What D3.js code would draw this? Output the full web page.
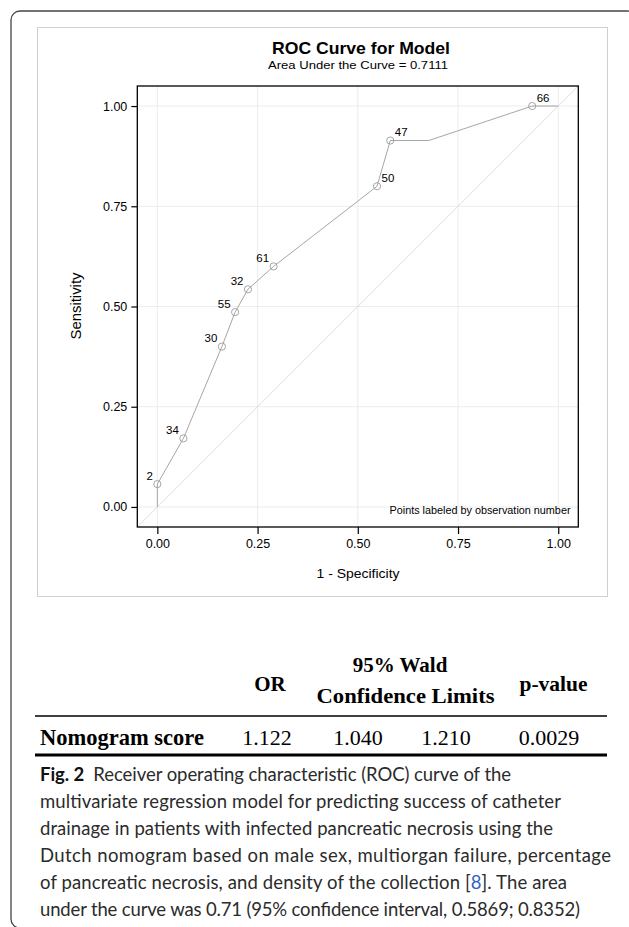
<!DOCTYPE html>
<html>
<head>
<meta charset="utf-8">
<script src="https://cdn.jsdelivr.net/npm/d3@7"></script>
<style>
  body { margin: 0; background: #fff; }
  svg { display: block; }
</style>
</head>
<body>
<svg id="fig" width="629" height="927"></svg>
<script>
// ROC points (1 - specificity, sensitivity) and the observation labels
const fpr = [0, 0, 0.065, 0.161, 0.194, 0.226, 0.290, 0.548, 0.581, 0.677, 0.935, 1.0];
const tpr = [0, 0.057, 0.171, 0.400, 0.486, 0.543, 0.600, 0.800, 0.914, 0.914, 1.0, 1.0];
const obsLabels = ["", "2", "34", "30", "55", "32", "61", "50", "47", "", "66", ""];
const labelRight = ["50", "47", "66"];

const tickValues = [0, 0.25, 0.5, 0.75, 1];

// table under the chart
const tableHeaders = ["OR", "95% Wald", "Confidence Limits", "p-value"];
const rowLabel = "Nomogram score";
const rowValues = ["1.122", "1.040", "1.210", "0.0029"];

const captionLines = [
    "Receiver operating characteristic (ROC) curve of the",
    "multivariate regression model for predicting success of catheter",
    "drainage in patients with infected pancreatic necrosis using the",
    "Dutch nomogram based on male sex, multiorgan failure, percentage",
    "of pancreatic necrosis, and density of the collection [8]. The area",
    "under the curve was 0.71 (95% confidence interval, 0.5869; 0.8352)"
];

const svg = d3.select("#fig");
const chartFont = "'Liberation Sans', Arial, sans-serif";

// outer rounded frame (runs off the right edge)
svg.append("rect")
    .attr("x", 11).attr("y", 11)
    .attr("width", 625).attr("height", 917)
    .attr("rx", 9)
    .attr("fill", "none")
    .attr("stroke", "#444")
    .attr("stroke-width", 1.3);

// light frame of the chart image
svg.append("rect")
    .attr("x", 37.5).attr("y", 27.5)
    .attr("width", 570).attr("height", 569)
    .attr("fill", "#fff")
    .attr("stroke", "#cfcfcf");

const plot = { left: 137.3, right: 578.3, top: 86, bottom: 527 };

const x = d3.scaleLinear().domain([-0.05, 1.05]).range([plot.left, plot.right]);
const y = d3.scaleLinear().domain([-0.05, 1.05]).range([plot.bottom, plot.top]);

const g = svg.append("g");

g.append("clipPath").attr("id", "plotclip")
    .append("rect")
    .attr("x", plot.left).attr("y", plot.top)
    .attr("width", plot.right - plot.left).attr("height", plot.bottom - plot.top);

// grid lines
g.selectAll(".vgrid")
    .data(tickValues)
    .enter()
    .append("line")
    .attr("x1", d => x(d)).attr("x2", d => x(d))
    .attr("y1", plot.top).attr("y2", plot.bottom)
    .attr("stroke", "#ececec");

g.selectAll(".hgrid")
    .data(tickValues)
    .enter()
    .append("line")
    .attr("y1", d => y(d)).attr("y2", d => y(d))
    .attr("x1", plot.left).attr("x2", plot.right)
    .attr("stroke", "#ececec");

// chance diagonal
g.append("line")
    .attr("clip-path", "url(#plotclip)")
    .attr("x1", x(-0.05)).attr("y1", y(-0.05))
    .attr("x2", x(1.05)).attr("y2", y(1.05))
    .attr("stroke", "#d4d4d4")
    .attr("stroke-width", 0.8);

// ROC curve
const pts = fpr.map((f, i) => ({ fx: f, ty: tpr[i], label: obsLabels[i] }));

const line = d3.line()
    .x(d => x(d.fx))
    .y(d => y(d.ty));

g.append("path")
    .datum(pts)
    .attr("d", line)
    .attr("fill", "none")
    .attr("stroke", "#a6a6a6")
    .attr("stroke-width", 1);

const labelled = pts.filter(d => d.label !== "");

g.selectAll(".pt")
    .data(labelled)
    .enter()
    .append("circle")
    .attr("cx", d => x(d.fx))
    .attr("cy", d => y(d.ty))
    .attr("r", 3.6)
    .attr("fill", "none")
    .attr("stroke", "#9c9c9c")
    .attr("stroke-width", 0.9);

g.selectAll(".ptlabel")
    .data(labelled)
    .enter()
    .append("text")
    .attr("x", d => labelRight.includes(d.label) ? x(d.fx) + 4.5 : x(d.fx) - 4.5)
    .attr("y", d => y(d.ty) - 4.5)
    .attr("text-anchor", d => labelRight.includes(d.label) ? "start" : "end")
    .attr("font-family", chartFont)
    .attr("font-size", 11.5)
    .attr("fill", "#000")
    .text(d => d.label);

// plot border
g.append("rect")
    .attr("x", plot.left).attr("y", plot.top)
    .attr("width", plot.right - plot.left).attr("height", plot.bottom - plot.top)
    .attr("fill", "none")
    .attr("stroke", "#000")
    .attr("stroke-width", 1.3);

// axes
const xAxis = d3.axisBottom(x)
    .tickValues(tickValues)
    .tickFormat(d3.format(".2f"))
    .tickSize(7)
    .tickPadding(5);

const xg = g.append("g")
    .attr("transform", `translate(0,${plot.bottom})`)
    .call(xAxis);

const yAxis = d3.axisLeft(y)
    .tickValues(tickValues)
    .tickFormat(d3.format(".2f"))
    .tickSize(6)
    .tickPadding(4);

const yg = g.append("g")
    .attr("transform", `translate(${plot.left},0)`)
    .call(yAxis);

[xg, yg].forEach(a => {
    a.select(".domain").remove();
    a.selectAll("line").attr("stroke", "#000").attr("stroke-width", 1.2);
    a.selectAll("text")
        .attr("font-family", chartFont)
        .attr("font-size", 12.5)
        .attr("fill", "#000");
});

// titles
g.append("text")
    .attr("x", 361).attr("y", 54)
    .attr("text-anchor", "middle")
    .attr("font-family", chartFont)
    .attr("font-size", 17)
    .attr("font-weight", "bold")
    .attr("textLength", 178)
    .attr("lengthAdjust", "spacingAndGlyphs")
    .text("ROC Curve for Model");

g.append("text")
    .attr("x", 358).attr("y", 68.5)
    .attr("text-anchor", "middle")
    .attr("font-family", chartFont)
    .attr("font-size", 11.5)
    .attr("textLength", 180)
    .attr("lengthAdjust", "spacingAndGlyphs")
    .text("Area Under the Curve = 0.7111");

g.append("text")
    .attr("x", 358).attr("y", 578)
    .attr("text-anchor", "middle")
    .attr("font-family", chartFont)
    .attr("font-size", 13.5)
    .attr("textLength", 83)
    .attr("lengthAdjust", "spacingAndGlyphs")
    .text("1 - Specificity");

g.append("text")
    .attr("transform", "translate(81,306) rotate(-90)")
    .attr("text-anchor", "middle")
    .attr("font-family", chartFont)
    .attr("font-size", 14)
    .attr("textLength", 67)
    .attr("lengthAdjust", "spacingAndGlyphs")
    .text("Sensitivity");

g.append("text")
    .attr("x", 570.5).attr("y", 514)
    .attr("text-anchor", "end")
    .attr("font-family", chartFont)
    .attr("font-size", 10)
    .attr("textLength", 181)
    .attr("lengthAdjust", "spacingAndGlyphs")
    .text("Points labeled by observation number");

// table
const serif = "'Liberation Serif', 'Times New Roman', serif";
const colX = [267, 358, 446, 549];
const tbl = svg.append("g").attr("font-family", serif).attr("fill", "#000");

tbl.append("text").attr("x", 270).attr("y", 691).attr("text-anchor", "middle")
    .attr("font-size", 21).attr("font-weight", "bold").text(tableHeaders[0]);
tbl.append("text").attr("x", 400).attr("y", 672).attr("text-anchor", "middle")
    .attr("font-size", 21).attr("font-weight", "bold").text(tableHeaders[1]);
tbl.append("text").attr("x", 405.5).attr("y", 703).attr("text-anchor", "middle")
    .attr("font-size", 21).attr("font-weight", "bold")
    .attr("textLength", 178).attr("lengthAdjust", "spacingAndGlyphs")
    .text(tableHeaders[2]);
tbl.append("text").attr("x", 553.5).attr("y", 691).attr("text-anchor", "middle")
    .attr("font-size", 21.5).attr("font-weight", "bold").text(tableHeaders[3]);

tbl.append("line").attr("x1", 35).attr("x2", 607).attr("y1", 716).attr("y2", 716)
    .attr("stroke", "#000").attr("stroke-width", 1.3);

tbl.append("text").attr("x", 40).attr("y", 745)
    .attr("font-size", 22.5).attr("font-weight", "bold").text(rowLabel);

tbl.selectAll(".val")
    .data(rowValues)
    .enter()
    .append("text")
    .attr("x", (d, i) => colX[i])
    .attr("y", 745)
    .attr("text-anchor", "middle")
    .attr("font-size", 22)
    .text(d => d);

tbl.append("line").attr("x1", 35).attr("x2", 607).attr("y1", 755).attr("y2", 755)
    .attr("stroke", "#000").attr("stroke-width", 3);

// caption
const capWidths = [471, 521, 513, 571, 527, 540];
const cap = svg.append("g")
    .attr("font-family", "Lato, 'Open Sans', sans-serif")
    .attr("font-size", 18.5)
    .attr("fill", "#2b2b2b");

captionLines.forEach((ln, i) => {
    const t = cap.append("text")
        .attr("x", 40)
        .attr("y", 781 + i * 27)
        .attr("textLength", capWidths[i])
        .attr("lengthAdjust", "spacing");
    if (i === 0) {
        t.append("tspan").attr("font-weight", "bold").attr("fill", "#111").text("Fig. 2");
        t.append("tspan").text("\u2002" + ln);
    } else if (ln.includes("[8]")) {
        const parts = ln.split("8");
        t.append("tspan").text(parts[0]);
        t.append("tspan").attr("fill", "#2f5fcf").text("8");
        t.append("tspan").text(parts[1]);
    } else {
        t.text(ln);
    }
});
</script>
</body>
</html>
